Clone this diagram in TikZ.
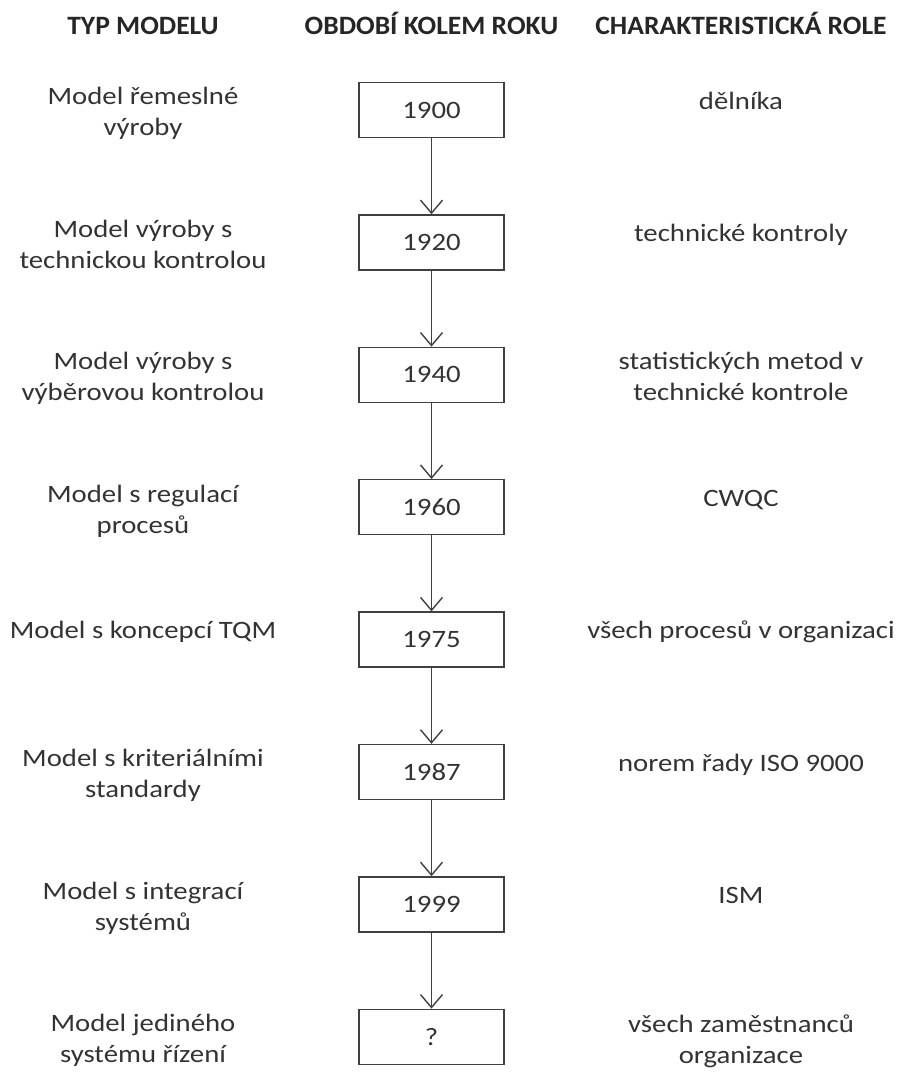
\documentclass[tikz,border=0pt]{standalone}
\usepackage{fontspec}
\setmainfont{Carlito}[FakeStretch=1.15]
\newfontfamily\headfont{Carlito}[FakeStretch=1.04]
\usetikzlibrary{arrows.meta}

\begin{document}
\begin{tikzpicture}[x = 1pt, y = -1pt, > = {Straight Barb[length=13pt, width=22pt, line width=1.4pt]},
	yearbox/.style = {draw = black!75, line width = 1.4pt, minimum width = 145pt, minimum height = 55pt,
		inner sep = 0pt, text = black!80, font = \fontsize{25}{31}\selectfont},
	sidetext/.style = {align = center, anchor = north, inner sep = 0pt, text = black!80,
		font = \fontsize{25}{31}\selectfont, execute at begin node = \strut},
	headtext/.style = {anchor = base, inner sep = 0pt, text = black!85,
		font = \headfont\bfseries\fontsize{26.5}{32}\selectfont}]

	% Page size and column positions
	
	\useasboundingbox (0, 0) rectangle (899, 1074);
	\def\L{143}
	\def\M{431.5}
	\def\R{741}
	
	% Column headers
	
	\node [headtext] (headModel) at (\L, 34) {TYP MODELU};
	\node [headtext] (headYear) at (\M, 34) {OBDOBÍ KOLEM ROKU};
	\node [headtext] (headRole) at (\R, 34) {CHARAKTERISTICKÁ ROLE};
	
	% Rows: year box, model type and role (first line sits on the box middle)
	
	\foreach \year/\model/\role [count = \i] in {
		1900/{Model řemeslné\\výroby}/dělníka,
		1920/{Model výroby s\\technickou kontrolou}/technické kontroly,
		1940/{Model výroby s\\výběrovou kontrolou}/{statistických metod v\\technické kontrole},
		1960/{Model s regulací\\procesů}/CWQC,
		1975/Model s koncepcí TQM/všech procesů v organizaci,
		1987/{Model s kriteriálními\\standardy}/norem řady ISO 9000,
		1999/{Model s integrací\\systémů}/ISM,
		?/{Model jediného\\systému řízení}/{všech zaměstnanců\\organizace}}
	{
		\pgfmathsetmacro\Y{110 + 132.4 * (\i - 1)}
		\node [yearbox] (year\i) at (\M, \Y) {\year};
		\node [sidetext] (model\i) at (\L, \Y - 22.7) {\model};
		\node [sidetext] (role\i) at (\R, \Y - 22.7) {\role};
	}
	
	% Arrows between the years
	
	\begin{scope}[->, draw = black!75, line width = 1.4pt]
		\foreach \i [evaluate = \i as \j using int(\i + 1)] in {1, ..., 7}
			\draw (year\i) -- (year\j);
	\end{scope}
		
\end{tikzpicture}
\end{document}
